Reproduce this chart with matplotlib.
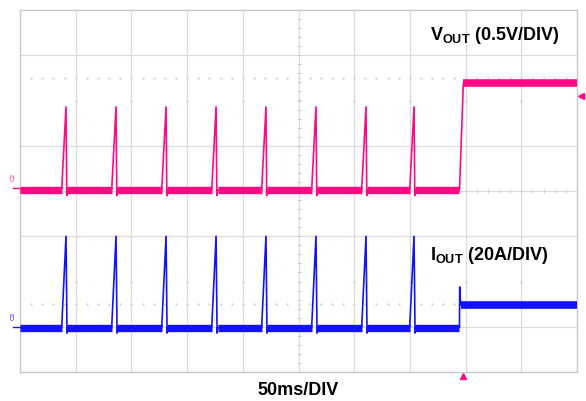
import numpy as np
import matplotlib
matplotlib.use("Agg")
import matplotlib.pyplot as plt

plt.rcParams['font.family'] = ['Liberation Sans', 'DejaVu Sans']
plt.rcParams['mathtext.fontset'] = 'custom'
plt.rcParams['mathtext.bf'] = 'Liberation Sans:bold'
plt.rcParams['mathtext.rm'] = 'Liberation Sans:bold'

# time axis in ms (10 div x 50 ms), vertical axis in divisions (8 div)
spike_ms = [41.3, 86.2, 131.1, 176.0, 220.8, 265.7, 310.6, 353.7]
rise_ms = 3.9
step_ms = 394.5
step_end_ms = 398.0

vout_base = 4.02
vout_peak = 5.86
vout_high = 6.39

iout_base = 0.98
iout_peak = 3.0
iout_shoulder = 2.08
iout_overshoot = 1.88
iout_high = 1.48

trigger_level = 6.1
trigger_ms = 397.7

pink = '#ff0a82'
blue = '#1212ff'
grid_col = '#dcdcdc'


def build_trace(base, peak, high, shoulder=None, overshoot=None, ramp=False):
    t = [0.0]
    v = [base]
    flats = []
    start = 0.0
    for s in spike_ms:
        flats.append((start, s - rise_ms))
        t += [s - rise_ms, s]
        v += [base, peak]
        if shoulder is not None:
            t += [s + 0.4, s + 0.9]
            v += [shoulder, base - 0.12]
        else:
            t += [s + 0.7]
            v += [base - 0.12]
        t += [s + 1.3]
        v += [base]
        start = s + 1.3
    flats.append((start, step_ms))
    t.append(step_ms)
    v.append(base)
    if ramp:
        t.append(step_end_ms)
        v.append(high)
        hstart = step_end_ms
    else:
        t += [step_ms + 0.2, step_ms + 1.0]
        v += [overshoot, high]
        hstart = step_ms + 1.0
    t.append(500.0)
    v.append(high)
    return t, v, flats, (hstart, 500.0)


fig = plt.figure(figsize=(5.86, 4.01), dpi=100)
ax = fig.add_axes([20 / 586, 1 - 372 / 401, 557 / 586, 362 / 401])
ax.set_xlim(0, 500)
ax.set_ylim(0, 8)
ax.set_xticks([])
ax.set_yticks([])
for sp in ax.spines.values():
    sp.set_color('#c8c8c8')
    sp.set_linewidth(1.0)

# graticule
for k in range(1, 10):
    ax.axvline(k * 50, color=grid_col, lw=0.9, zorder=0)
for k in [1, 3, 4, 5, 7]:
    ax.axhline(k, color=grid_col, lw=0.9, zorder=0)
for k in [2, 6]:
    ax.plot(np.arange(50, 500, 50), np.full(9, k), ls='none', marker='.',
            ms=1.5, color='#d0d0d0', zorder=0)
yt = np.arange(0.2, 8, 0.2)
ax.plot(np.full(len(yt), 250), yt, ls='none', marker='_', ms=3.5, mew=0.7,
        color='#cccccc', zorder=0)
xt = np.arange(10, 500, 10)
ax.plot(xt, np.full(len(xt), 4), ls='none', marker='|', ms=3.5, mew=0.7,
        color='#cccccc', zorder=0)
for lvl in [6.5, 1.5]:
    ax.plot(xt, np.full(len(xt), lvl), ls='none', marker='.', ms=1.3,
            color='#d2d2d2', zorder=0)

# VOUT trace
t, v, flats, hseg = build_trace(vout_base, vout_peak, vout_high, ramp=True)
ax.plot(t, v, color=pink, lw=1.2, zorder=3)
for a, b in flats:
    ax.plot([a, b], [vout_base, vout_base], color=pink, lw=5.3,
            solid_capstyle='butt', zorder=3)
ax.plot(hseg, [vout_high, vout_high], color=pink, lw=5.5,
        solid_capstyle='butt', zorder=3)

# IOUT trace
t, v, flats, hseg = build_trace(iout_base, iout_peak, iout_high,
                                shoulder=iout_shoulder, overshoot=iout_overshoot)
ax.plot(t, v, color=blue, lw=1.2, zorder=3)
for a, b in flats:
    ax.plot([a, b], [iout_base, iout_base], color=blue, lw=5.3,
            solid_capstyle='butt', zorder=3)
ax.plot(hseg, [iout_high, iout_high], color=blue, lw=5.5,
        solid_capstyle='butt', zorder=3)

# markers
ax.plot(503.8, trigger_level, marker='<', ms=4, color=pink, clip_on=False)
ax.plot(trigger_ms, -0.09, marker='^', ms=4, color=pink, clip_on=False)
ax.plot([-6.5, -0.5], [vout_base + 0.04, vout_base + 0.04], color=pink,
        lw=1.0, clip_on=False)
ax.text(-6.5, vout_base + 0.2, 'C2', fontsize=4.5, color=pink, ha='center',
        va='bottom', rotation=90, clip_on=False)
ax.plot([-6.5, -0.5], [iout_base + 0.02, iout_base + 0.02], color=blue,
        lw=1.0, clip_on=False)
ax.text(-6.5, iout_base + 0.18, 'C3', fontsize=4.5, color=blue, ha='center',
        va='bottom', rotation=90, clip_on=False)

# labels
ax.text(368, 7.34, r'$\mathbf{V_{OUT}}$ (0.5V/DIV)', fontsize=13,
        fontweight='bold', ha='left', va='baseline')
ax.text(368, 2.48, r'$\mathbf{I_{OUT}}$ (20A/DIV)', fontsize=13,
        fontweight='bold', ha='left', va='baseline')
fig.text(298 / 586, 1 - 395 / 401, '50ms/DIV', fontsize=13,
         fontweight='bold', ha='center', va='baseline')

fig.savefig('out.png', dpi=100)
